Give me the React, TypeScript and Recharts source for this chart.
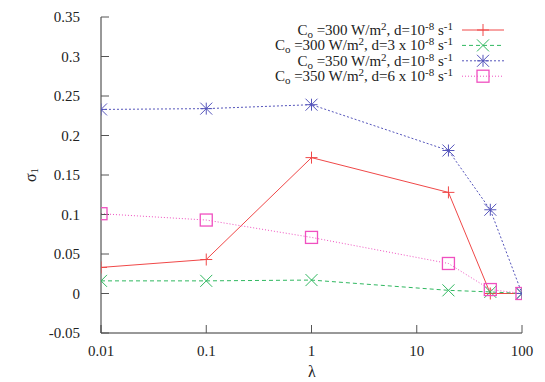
import React from 'react'
import { LineChart, Line, XAxis, YAxis } from 'recharts'

// lambda values (x, log scale)
const lambdas = [0.01, 0.1, 1, 20, 50, 100]

// sigma_1 for each case
const co300d1 = [0.033, 0.043, 0.172, 0.128, 0.0, 0.0]
const co300d3 = [0.016, 0.016, 0.017, 0.004, 0.002, 0.0]
const co350d1 = [0.233, 0.234, 0.239, 0.181, 0.106, 0.0]
const co350d6 = [0.101, 0.093, 0.071, 0.038, 0.005, 0.0]

const xTicks = [0.01, 0.1, 1, 10, 100]
const xTickLabels = ['0.01', '0.1', '1', '10', '100']
const yTicks = [-0.05, 0, 0.05, 0.1, 0.15, 0.2, 0.25, 0.3, 0.35]
const yTickLabels = ['-0.05', '0', '0.05', '0.1', '0.15', '0.2', '0.25', '0.3', '0.35']

// minor ticks of the log axis
const xMinor: number[] = []
for (let e = -2; e < 2; e++) {
  for (let m = 2; m <= 9; m++) xMinor.push(m * Math.pow(10, e))
}

const seriesNames = [
  'C_{o} =300 W/m^{2}, d=10^{-8} s^{-1}',
  'C_{o} =300 W/m^{2}, d=3 x 10^{-8} s^{-1}',
  'C_{o} =350 W/m^{2}, d=10^{-8} s^{-1}',
  'C_{o} =350 W/m^{2}, d=6 x 10^{-8} s^{-1}',
]

const data = lambdas.map((l, i) => ({
  lambda: l,
  a: co300d1[i],
  b: co300d3[i],
  c: co350d1[i],
  d: co350d6[i],
}))

const FONT = '"Liberation Serif", "Times New Roman", serif'

const series = [
  { key: 'a', color: '#f04848', dash: undefined, marker: 'plus' },
  { key: 'b', color: '#30b860', dash: '4 3', marker: 'x' },
  { key: 'c', color: '#5555bb', dash: '2 2', marker: 'star' },
  { key: 'd', color: '#f050c0', dash: '1 2', marker: 'square' },
]

function Marker({ type, cx, cy, color }: { type: string; cx: number; cy: number; color: string }) {
  const r = 6
  const p = { stroke: color, strokeWidth: 1, fill: 'none' }
  if (type === 'plus')
    return (
      <g>
        <line x1={cx - r} y1={cy} x2={cx + r} y2={cy} {...p} />
        <line x1={cx} y1={cy - r} x2={cx} y2={cy + r} {...p} />
      </g>
    )
  if (type === 'x')
    return (
      <g>
        <line x1={cx - r} y1={cy - r} x2={cx + r} y2={cy + r} {...p} />
        <line x1={cx - r} y1={cy + r} x2={cx + r} y2={cy - r} {...p} />
      </g>
    )
  if (type === 'star')
    return (
      <g>
        <line x1={cx - r} y1={cy} x2={cx + r} y2={cy} {...p} />
        <line x1={cx} y1={cy - r} x2={cx} y2={cy + r} {...p} />
        <line x1={cx - r} y1={cy - r} x2={cx + r} y2={cy + r} {...p} />
        <line x1={cx - r} y1={cy + r} x2={cx + r} y2={cy - r} {...p} />
      </g>
    )
  return <rect x={cx - r} y={cy - r} width={2 * r} height={2 * r} {...p} strokeWidth={1.3} />
}

// "a_{b}^{c}" -> tspans with sub / sup shifts
function richTspans(s: string) {
  const parts = s.split(/([_^]\{[^}]*\})/).filter((t) => t !== '')
  let shift = 0
  return parts.map((t, i) => {
    let target = 0
    let txt = t
    let size = 15
    if (t.startsWith('_{')) { target = 3; txt = t.slice(2, -1); size = 11 }
    else if (t.startsWith('^{')) { target = -5; txt = t.slice(2, -1); size = 11 }
    const dy = target - shift
    shift = target
    return (
      <tspan key={i} dy={dy} fontSize={size}>
        {txt}
      </tspan>
    )
  })
}

function ChartLegend() {
  const textRight = 453
  const x1 = 462
  const x2 = 504
  return (
    <g>
      {series.map((s, i) => {
        const y = 30 + i * 15.4
        return (
          <g key={s.key}>
            <text x={textRight} y={y + 5} textAnchor="end" fontFamily={FONT} fontSize={15} fill="#222">
              {richTspans(seriesNames[i])}
            </text>
            <line x1={x1} y1={y} x2={x2} y2={y} stroke={s.color} strokeDasharray={s.dash} />
            <Marker type={s.marker} cx={(x1 + x2) / 2} cy={y} color={s.color} />
          </g>
        )
      })}
    </g>
  )
}

function YLabel() {
  return (
    <text x={30} y={175} transform="rotate(-90 30 175)" textAnchor="middle" dominantBaseline="central" fontFamily={FONT} fontSize={16} fill="#222">
      σ<tspan fontSize={11} dy={4}>1</tspan>
    </text>
  )
}

function XLabel() {
  return (
    <text x={312} y={377} textAnchor="middle" fontFamily={FONT} fontSize={16} fill="#222">
      λ
    </text>
  )
}

export default function App() {
  const tickStyle = { fontFamily: FONT, fontSize: 15, fill: '#222' }
  return (
    <div style={{ position: 'absolute', left: 0, top: 0, background: '#fff', fontFamily: FONT }}>
      <LineChart width={545} height={382} data={data} margin={{ top: 17, right: 23, bottom: 0, left: 0 }}>
        {/* minor ticks first so they sit on the border */}
        <XAxis xAxisId="xminor" type="number" dataKey="lambda" scale="log" domain={[0.01, 100]} ticks={xMinor}
          allowDataOverflow height={0} tick={false} tickSize={-4} axisLine={false} tickLine={{ stroke: '#555' }} />
        <XAxis xAxisId="x" type="number" dataKey="lambda" scale="log" domain={[0.01, 100]} ticks={xTicks}
          allowDataOverflow height={49} tickSize={-8} tickMargin={20} interval={0}
          tickFormatter={(v: number) => xTickLabels[xTicks.indexOf(v)] ?? ''}
          tick={tickStyle} axisLine={{ stroke: '#333' }} tickLine={{ stroke: '#555' }} label={<XLabel />} />
        <XAxis xAxisId="xtopminor" orientation="top" type="number" dataKey="lambda" scale="log" domain={[0.01, 100]}
          ticks={xMinor} allowDataOverflow height={0} tick={false} tickSize={-4} axisLine={false} tickLine={{ stroke: '#888' }} />
        <XAxis xAxisId="xtop" orientation="top" type="number" dataKey="lambda" scale="log" domain={[0.01, 100]}
          ticks={xTicks} allowDataOverflow height={0} tick={false} tickSize={-8} axisLine={{ stroke: '#999' }} tickLine={{ stroke: '#888' }} />
        <YAxis yAxisId="y" type="number" domain={[-0.05, 0.35]} ticks={yTicks} width={101} tickSize={-8} tickMargin={29}
          interval={0} tickFormatter={(v: number) => yTickLabels[yTicks.findIndex((t) => Math.abs(t - v) < 1e-9)] ?? ''}
          tick={tickStyle} axisLine={{ stroke: '#333' }} tickLine={{ stroke: '#555' }} label={<YLabel />} />
        <YAxis yAxisId="yright" orientation="right" type="number" domain={[-0.05, 0.35]} ticks={yTicks} width={0}
          tick={false} tickSize={-8} axisLine={{ stroke: '#999', strokeWidth: 2 }} tickLine={{ stroke: '#888' }} />
        {series.map((s, i) => (
          <Line
            key={s.key}
            xAxisId="x"
            yAxisId="y"
            type="linear"
            dataKey={s.key}
            name={seriesNames[i]}
            stroke={s.color}
            strokeWidth={1}
            strokeDasharray={s.dash}
            isAnimationActive={false}
            dot={(p: any) => <Marker key={p.index} type={s.marker} cx={p.cx} cy={p.cy} color={s.color} />}
            activeDot={false}
          />
        ))}
        <ChartLegend />
      </LineChart>
    </div>
  )
}
